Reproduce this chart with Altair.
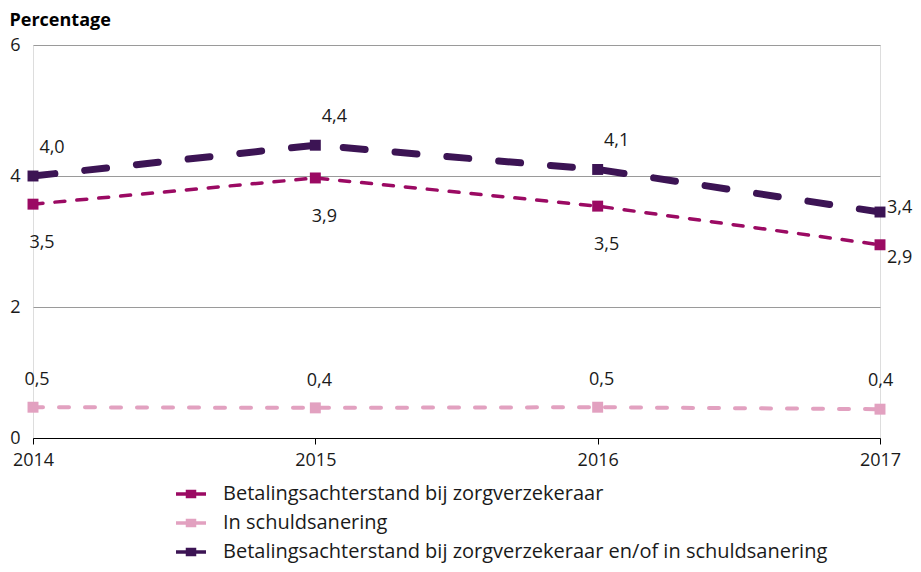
import altair as alt
import pandas as pd

years = ["2014", "2015", "2016", "2017"]
series_names = [
    "Betalingsachterstand bij zorgverzekeraar",
    "In schuldsanering",
    "Betalingsachterstand bij zorgverzekeraar en/of in schuldsanering",
]
zorg_values = [3.57, 3.97, 3.54, 2.95]
zorg_labels = ["3,5", "3,9", "3,5", "2,9"]
schuld_values = [0.47, 0.46, 0.47, 0.44]
schuld_labels = ["0,5", "0,4", "0,5", "0,4"]
beide_values = [4.0, 4.47, 4.1, 3.45]
beide_labels = ["4,0", "4,4", "4,1", "3,4"]
colors = ["#9b0a63", "#e2a1c0", "#3c1454"]

rows = []
for name, vals, labs in zip(series_names,
                            [zorg_values, schuld_values, beide_values],
                            [zorg_labels, schuld_labels, beide_labels]):
    for y, v, l in zip(years, vals, labs):
        rows.append({"jaar": y, "serie": name, "waarde": v, "label": l})
df = pd.DataFrame(rows)

FONT = "Open Sans"
TXT = "#1a1a1a"

x_enc = alt.X("jaar:O", scale=alt.Scale(padding=0),
              axis=alt.Axis(title=None, labelAngle=0, domainColor="#000000",
                            tickColor="#000000", tickSize=6, labelFontSize=18,
                            labelPadding=7, labelColor=TXT, labelFont=FONT))
y_enc = alt.Y("waarde:Q", scale=alt.Scale(domain=[0, 6]),
              axis=alt.Axis(values=[0, 2, 4, 6], domain=False, ticks=False,
                            gridColor="#9a9a9a", gridWidth=1, labelFontSize=18,
                            labelPadding=13, labelColor=TXT, labelFont=FONT,
                            title="Percentage", titleAngle=0, titleAlign="left",
                            titleBaseline="middle", titleX=-24, titleY=-25,
                            titleFontSize=18, titleFontWeight="bold",
                            titleFont=FONT, titleColor="#000000"))
color_enc = alt.Color("serie:N",
                      scale=alt.Scale(domain=series_names, range=colors),
                      legend=alt.Legend(title=None, orient="none", legendX=146,
                                        legendY=437, labelFontSize=20,
                                        labelFont=FONT, labelColor=TXT,
                                        symbolType="M-1.5,0 H-0.45 M-0.35,-0.25 H0.35 V0.25 H-0.35 Z M0.45,0 H1.5",
                                        symbolSize=400, symbolStrokeWidth=3.5,
                                        rowPadding=7, labelOffset=20, labelLimit=800))

base = alt.Chart(df)


def series_line(name, dash, width):
    return base.transform_filter(alt.datum.serie == name).mark_line(
        strokeDash=dash, strokeWidth=width, strokeCap="round"
    ).encode(x=x_enc, y=y_enc, color=color_enc)


lines = [
    series_line(series_names[0], [10, 12], 3.5),
    series_line(series_names[1], [10, 16], 4),
    series_line(series_names[2], [22, 30], 7),
]

points = base.mark_square(size=120, opacity=1, filled=True).encode(
    x=x_enc, y=y_enc,
    color=alt.Color("serie:N", scale=alt.Scale(domain=series_names, range=colors), legend=None)
)


def labels(name, dx, dy, last):
    cond = (alt.datum.jaar == "2017") if last else (alt.datum.jaar != "2017")
    return base.transform_filter(alt.datum.serie == name).transform_filter(cond).mark_text(
        fontSize=18, font=FONT, color=TXT, dx=dx, dy=dy,
        align="left" if last else "center"
    ).encode(x=x_enc, y=y_enc, text="label:N")


texts = [
    labels(series_names[0], 9, 39, False),
    labels(series_names[0], 7, 13, True),
    labels(series_names[1], 4, -27, False),
    labels(series_names[1], -12, -28, True),
    labels(series_names[2], 19, -28, False),
    labels(series_names[2], 7, -4, True),
]

chart = alt.layer(*lines, points, *texts).properties(
    width=847, height=393,
    autosize=alt.AutoSizeParams(type="none"),
    padding={"left": 25, "top": 37, "right": 33, "bottom": 125},
).configure_view(stroke=None).configure(background="white")

chart.save("out.html", embed_options={"renderer": "svg", "actions": False})
